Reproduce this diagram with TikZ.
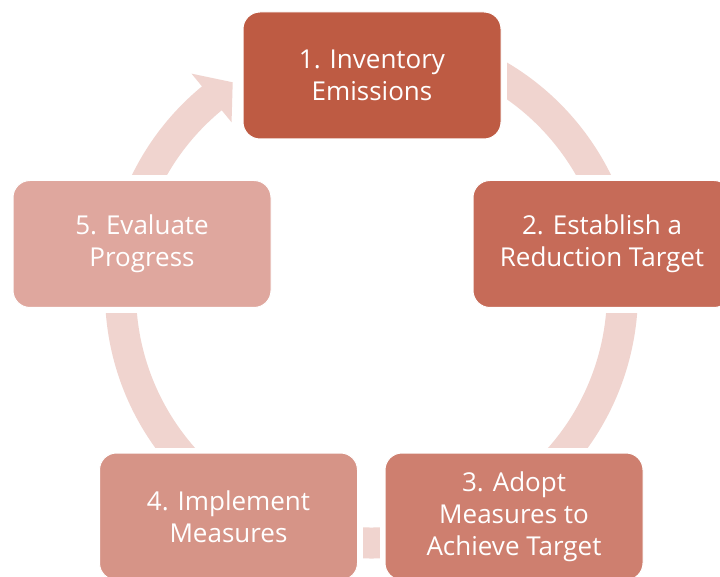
\documentclass[tikz,border=0pt]{standalone}
\usepackage{fontspec}
\setmainfont{Open Sans}
\usetikzlibrary{calc}
\pgfdeclarelayer{background}
\pgfsetlayers{background,main}
\definecolor{cA}{RGB}{190,91,67}
\definecolor{cB}{RGB}{198,107,88}
\definecolor{cC}{RGB}{206,127,111}
\definecolor{cD}{RGB}{214,148,135}
\definecolor{cE}{RGB}{223,167,158}
\definecolor{ringcol}{RGB}{240,212,207}
\tikzset{
  stepbox/.style={rounded corners=17pt, minimum width=258pt, minimum height=127pt,
    draw=white, line width=1pt, text=white, align=center, inner sep=0pt,
    font=\fontsize{26}{32}\selectfont},
  ringband/.style={draw=ringcol, line width=31pt},
  mask/.style={fill=white}
}
\begin{document}
\begin{tikzpicture}[x=1pt,y=1pt]
\useasboundingbox (0,0) rectangle (720,-577);
\clip (0,0) rectangle (720,-577);
\coordinate (C) at (371.5,-292);
\node[stepbox, fill=cA] (b1) at (372,-75.5) {1. Inventory\\Emissions};
\node[stepbox, fill=cB] (b2) at (602,-244) {2. Establish a\\Reduction Target};
\node[stepbox, fill=cC] (b3) at (514,-516.5) {3. Adopt\\Measures to\\Achieve Target};
\node[stepbox, fill=cD] (b4) at (228.5,-516.5) {4. Implement\\Measures};
\node[stepbox, fill=cE] (b5) at (142,-244) {5. Evaluate\\Progress};
\begin{pgfonlayer}{background}
  \fill[white] (0,0) rectangle (720,-577);
  \draw[ringband] (C) ++(129:251) arc[start angle=129, end angle=450, radius=251];
  \fill[ringcol] ($(C)+(129.5:220)$) -- ($(C)+(123.5:251.5)$) -- ($(C)+(129.5:283)$) -- cycle;
  \foreach \b in {b1,b2,b3,b4,b5}
    \fill[mask] ($(\b.south west)+(-5,-5)$) rectangle ($(\b.north east)+(5,5)$);
\end{pgfonlayer}
\end{tikzpicture}
\end{document}
